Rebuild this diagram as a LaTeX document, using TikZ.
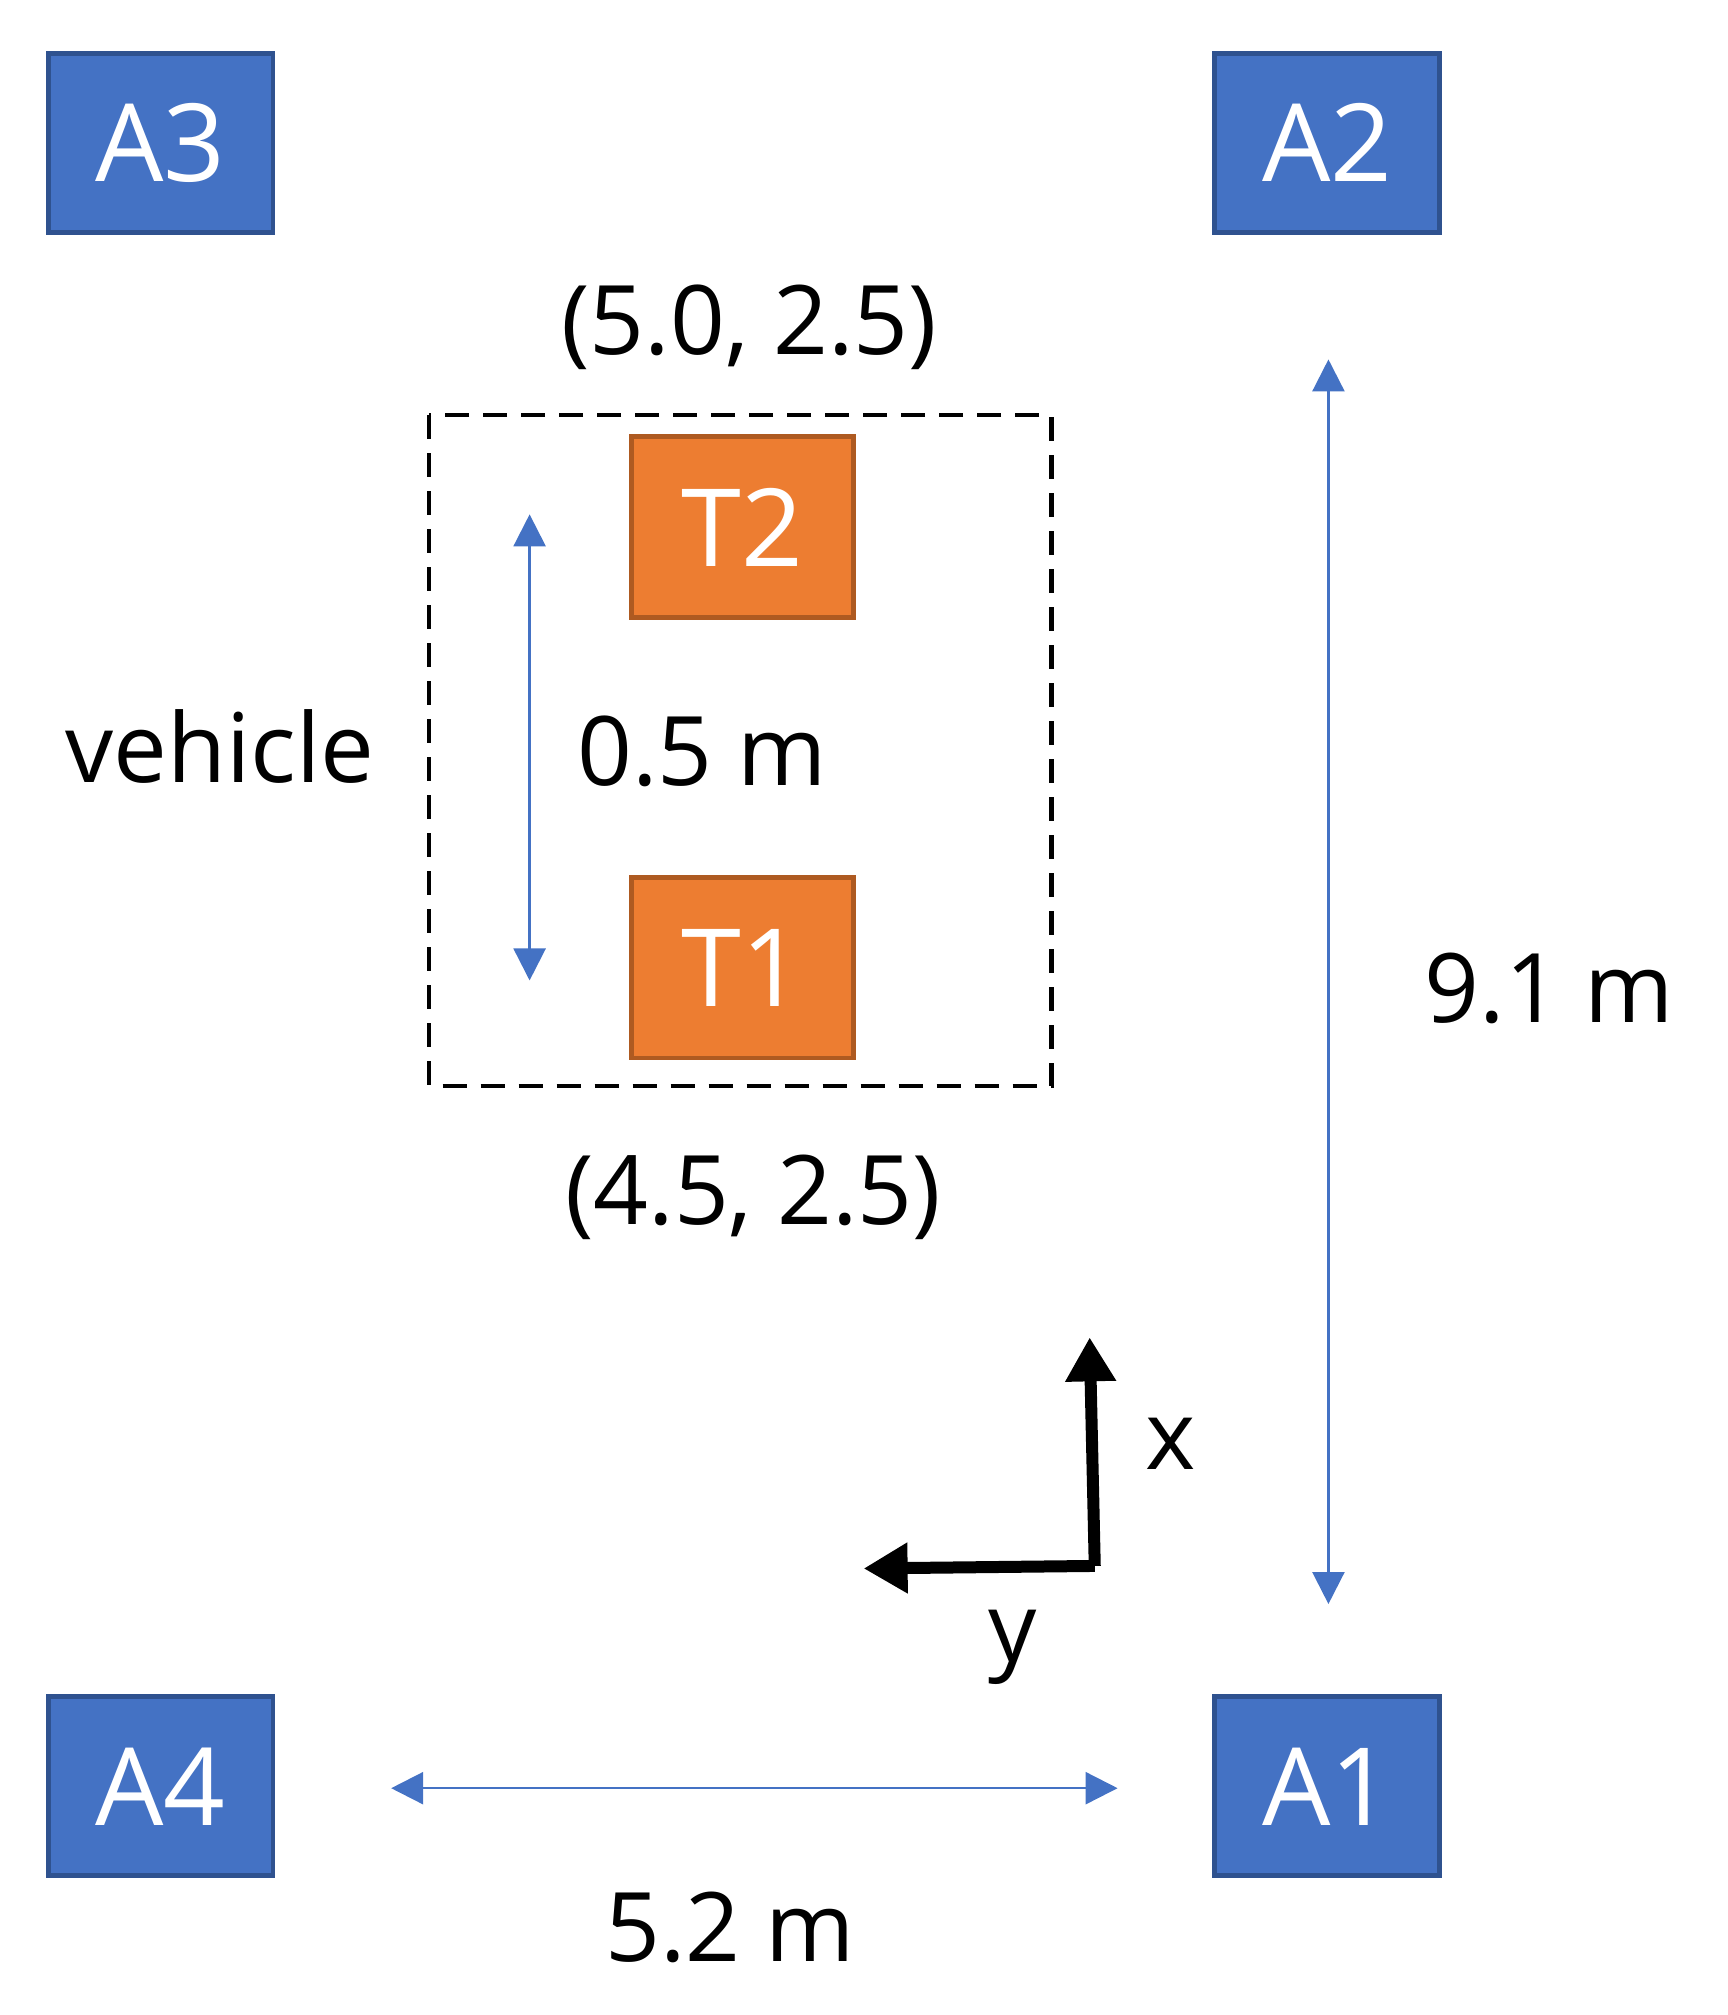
\documentclass[tikz,border=0pt]{standalone}
\usepackage{fontspec}
\setmainfont{Open Sans}
\usetikzlibrary{arrows.meta}
\definecolor{bfill}{HTML}{4472C4}
\definecolor{bline}{HTML}{2F528F}
\definecolor{ofill}{HTML}{ED7D31}
\definecolor{oline}{HTML}{AE5A21}
\begin{document}
\begin{tikzpicture}[x=0.3175pt,y=-0.3175pt,
  anchorbox/.style={draw=bline,fill=bfill,line width=1.2pt,minimum width=177*0.3175pt,minimum height=141*0.3175pt,inner sep=0pt,text=white,font=\fontsize{27}{30}\selectfont},
  tagbox/.style={draw=oline,fill=ofill,line width=1.2pt,minimum width=175*0.3175pt,minimum height=142*0.3175pt,inner sep=0pt,text=white,font=\fontsize{27}{30}\selectfont},
  lbl/.style={font=\fontsize{24}{28}\selectfont,inner sep=0pt},
  dim/.style={draw=bfill,line width=0.6pt,{Triangle[width=8pt,length=8pt]}-{Triangle[width=8pt,length=8pt]}}]
\useasboundingbox (0,0) rectangle (1360.6,1586.6);
\node[anchorbox] (A3) at (126.5,112.5) {A3};
\node[anchorbox] (A2) at (1045,112.5) {A2};
\node[anchorbox] (A4) at (126.5,1406.5) {A4};
\node[anchorbox] (A1) at (1045,1406.5) {A1};
\draw[line width=1.1pt,dash pattern=on 6pt off 3.5pt] (338,327) rectangle (828,855);
\node[tagbox] (T2) at (584.5,415) {T2};
\node[tagbox] (T1) at (584.5,762) {T1};
\coordinate (s1) at (417,405); \coordinate (s2) at (417,772);
\draw[dim] (s1) -- (s2);
\node[lbl] (d05) at (553,592) {0.5 m};
\node[lbl] (veh) at (173,588) {vehicle};
\node[lbl] (c1) at (590,258) {(5.0, 2.5)};
\node[lbl] (c2) at (593,943) {(4.5, 2.5)};
\coordinate (v1) at (1046,283); \coordinate (v2) at (1046,1263);
\draw[dim] (v1) -- (v2);
\node[lbl] (d91) at (1220,778) {9.1 m};
\coordinate (h1) at (308,1408); \coordinate (h2) at (880,1408);
\draw[dim] (h1) -- (h2);
\node[lbl] (d52) at (575,1518) {5.2 m};
\coordinate (o) at (862,1233); \coordinate (ax) at (858,1053); \coordinate (ay) at (680,1235);
\draw[line width=3pt,-{Triangle[width=12pt,length=11pt]}] (o) -- (ax);
\draw[line width=3pt,-{Triangle[width=12pt,length=11pt]}] (o) -- (ay);
\node[lbl] (xl) at (922,1137) {x};
\node[lbl] (yl) at (797,1297) {y};
\end{tikzpicture}
\end{document}
